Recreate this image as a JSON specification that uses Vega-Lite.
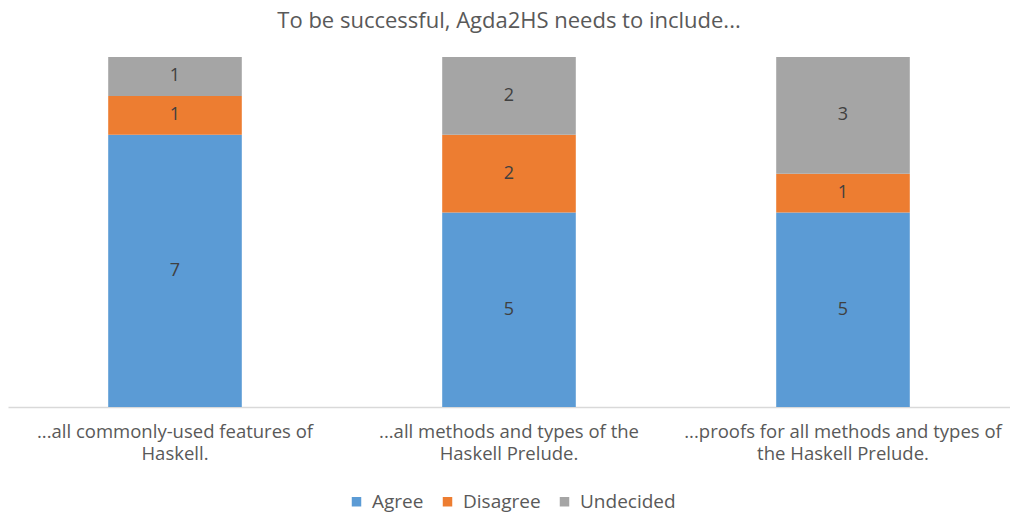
{
  "$schema": "https://vega.github.io/schema/vega-lite/v6.json",
  "width": 1002,
  "height": 350,
  "autosize": {"type": "none"},
  "padding": {"left": 8, "top": 57, "right": 0, "bottom": 109},
  "background": "white",
  "title": {
    "text": "To be successful, Agda2HS needs to include...",
    "font": "Open Sans",
    "fontSize": 22,
    "fontWeight": "normal",
    "color": "#595959",
    "anchor": "middle",
    "offset": 24
  },
  "data": {
    "values": [
      {"statement": "...all commonly-used features of Haskell.", "response": "Agree", "count": 7},
      {"statement": "...all commonly-used features of Haskell.", "response": "Disagree", "count": 1},
      {"statement": "...all commonly-used features of Haskell.", "response": "Undecided", "count": 1},
      {"statement": "...all methods and types of the Haskell Prelude.", "response": "Agree", "count": 5},
      {"statement": "...all methods and types of the Haskell Prelude.", "response": "Disagree", "count": 2},
      {"statement": "...all methods and types of the Haskell Prelude.", "response": "Undecided", "count": 2},
      {"statement": "...proofs for all methods and types of the Haskell Prelude.", "response": "Agree", "count": 5},
      {"statement": "...proofs for all methods and types of the Haskell Prelude.", "response": "Disagree", "count": 1},
      {"statement": "...proofs for all methods and types of the Haskell Prelude.", "response": "Undecided", "count": 3}
    ]
  },
  "transform": [
    {"stack": "count", "groupby": ["statement"], "sort": [{"field": "response", "order": "ascending"}], "as": ["y0", "y1"]},
    {"calculate": "(datum.y0 + datum.y1) / 2", "as": "ymid"}
  ],
  "encoding": {
    "x": {
      "field": "statement",
      "type": "nominal",
      "sort": null,
      "scale": {"paddingInner": 0.6, "paddingOuter": 0.3},
      "axis": {
        "title": null,
        "labelAngle": 0,
        "labelFont": "Open Sans",
        "labelFontSize": 18.5,
        "labelColor": "#595959",
        "labelLineHeight": 22,
        "labelPadding": 15,
        "labelBaseline": "top",
        "labelLimit": 500,
        "domainColor": "#D9D9D9",
        "domainWidth": 1.5,
        "ticks": false,
        "labelExpr": "datum.value == '...all commonly-used features of Haskell.' ? ['...all commonly-used features of', 'Haskell.'] : datum.value == '...all methods and types of the Haskell Prelude.' ? ['...all methods and types of the', 'Haskell Prelude.'] : ['...proofs for all methods and types of', 'the Haskell Prelude.']"
      }
    }
  },
  "layer": [
    {
      "mark": {"type": "bar"},
      "encoding": {
        "y": {"field": "y0", "type": "quantitative", "scale": {"domain": [0, 9]}, "axis": null},
        "y2": {"field": "y1"},
        "color": {
          "field": "response",
          "type": "nominal",
          "scale": {"domain": ["Agree", "Disagree", "Undecided"], "range": ["#5B9BD5", "#ED7D31", "#A5A5A5"]},
          "legend": {
            "title": null,
            "orient": "none",
            "legendX": 339,
            "legendY": 435,
            "direction": "horizontal",
            "symbolType": "square",
            "symbolSize": 90,
            "symbolStrokeWidth": 0,
            "labelFont": "Open Sans",
            "labelFontSize": 19,
            "labelColor": "#595959",
            "labelOffset": 6,
            "columnPadding": 14
          }
        }
      }
    },
    {
      "mark": {"type": "text", "font": "Open Sans", "fontSize": 18, "color": "#404040", "baseline": "middle"},
      "encoding": {
        "y": {"field": "ymid", "type": "quantitative"},
        "text": {"field": "count", "type": "quantitative"}
      }
    }
  ],
  "config": {"view": {"stroke": null}}
}
